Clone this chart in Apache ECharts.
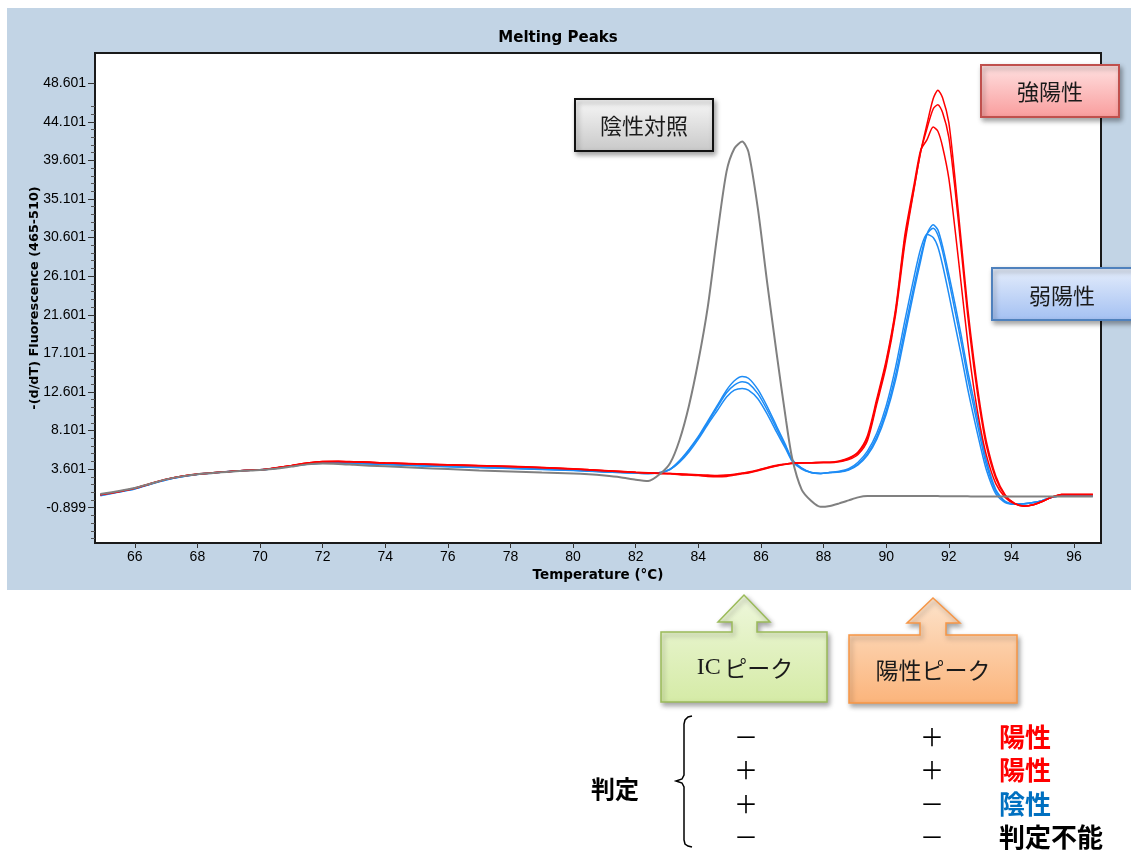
<!DOCTYPE html>
<html><head><meta charset="utf-8">
<script src="https://cdn.jsdelivr.net/npm/echarts@6/dist/echarts.min.js"></script>
<style>html,body{margin:0;padding:0;background:#fff}#c{width:1131px;height:852px}</style>
</head><body><div id="c"></div>
<script>
// Temperature grid (°C)
const temps = [64.9,65.5,66,66.5,67,67.5,68,68.5,69,69.5,
 70,70.5,71,71.5,72,72.5,73,73.5,74,75,
 76,77,78,79,80,80.5,81,81.5,82,82.4,
 82.8,83.1,83.4,83.7,84,84.3,84.6,84.9,85.15,85.4,
 85.6,85.9,86.2,86.5,86.8,87,87.3,87.6,87.9,88.2,
 88.5,88.8,89.1,89.4,89.7,90,90.3,90.6,90.9,91.1,
 91.3,91.5,91.65,91.8,92,92.2,92.4,92.6,92.8,93,
 93.2,93.5,93.8,94.1,94.4,94.7,95,95.3,95.6,96,
 96.6];
// negative control (gray)
const grayCtrl = [0.7,1.05,1.4,1.9,2.4,2.75,3.0,3.15,3.3,3.4,
 3.5,3.65,3.9,4.15,4.25,4.2,4.1,4.0,3.92,3.75,
 3.6,3.45,3.32,3.2,3.1,3.0,2.85,2.65,2.35,2.2,
 3.1,4.3,7.0,11.0,16.2,22.5,30.8,38.3,41.0,41.8,
 40.6,34.0,25.3,17.1,9.3,4.8,1.2,-0.1,-0.8,-0.7,
 -0.4,-0.05,0.3,0.45,0.45,0.45,0.45,0.45,0.45,0.45,
 0.45,0.45,0.45,0.42,0.42,0.42,0.42,0.42,0.4,0.4,
 0.4,0.4,0.4,0.4,0.4,0.4,0.4,0.4,0.4,0.4,
 0.4];
// weak positive (blue)
const blue1 = [0.55,0.95,1.3,1.85,2.35,2.72,3.0,3.15,3.32,3.45,
 3.5,3.7,3.95,4.2,4.32,4.35,4.3,4.25,4.18,4.05,
 3.92,3.82,3.72,3.6,3.48,3.4,3.3,3.22,3.15,3.1,
 3.2,3.6,4.6,5.9,7.4,9.2,11.0,12.8,13.9,14.4,
 14.2,12.9,10.9,8.6,6.3,4.7,3.7,3.2,3.1,3.2,
 3.25,3.5,4.1,5.2,7.1,10.0,14.0,19.3,24.6,27.9,
 31.0,32.1,31.5,29.6,26.3,22.8,19.1,15.1,11.6,8.0,
 4.6,1.2,-0.15,-0.5,-0.45,-0.3,-0.05,0.3,0.45,0.45,
 0.45];
const blue2 = [0.6,0.98,1.33,1.87,2.37,2.73,3.0,3.16,3.32,3.44,
 3.52,3.72,3.96,4.2,4.3,4.32,4.28,4.22,4.15,4.02,
 3.9,3.8,3.7,3.58,3.46,3.38,3.28,3.2,3.14,3.1,
 3.2,3.6,4.5,5.8,7.3,9.0,10.8,12.5,13.4,13.8,
 13.6,12.4,10.5,8.3,6.1,4.6,3.7,3.2,3.1,3.2,
 3.3,3.55,4.2,5.4,7.4,10.4,14.6,20.0,25.2,28.4,
 31.0,31.7,30.9,29.0,25.6,22.0,18.3,14.3,10.8,7.3,
 4.1,1.0,-0.2,-0.5,-0.45,-0.3,-0.05,0.3,0.45,0.45,
 0.45];
const blue3 = [0.5,0.92,1.28,1.83,2.33,2.7,2.98,3.14,3.3,3.44,
 3.5,3.68,3.92,4.16,4.28,4.3,4.26,4.2,4.14,4.0,
 3.88,3.78,3.68,3.56,3.45,3.36,3.27,3.2,3.13,3.08,
 3.2,3.55,4.4,5.6,7.1,8.8,10.4,12.0,12.8,13.0,
 12.8,11.8,10.0,7.9,5.9,4.5,3.6,3.2,3.1,3.2,
 3.35,3.65,4.4,5.7,7.8,11.0,15.5,21.0,26.2,29.3,
 31.0,30.6,29.5,27.4,24.0,20.4,16.8,13.0,9.6,6.4,
 3.5,0.7,-0.3,-0.5,-0.45,-0.3,-0.05,0.3,0.45,0.45,
 0.45];
// strong positive (red)
const red1 = [0.65,1.0,1.38,1.92,2.42,2.78,3.02,3.18,3.32,3.45,
 3.52,3.75,4.02,4.32,4.5,4.52,4.47,4.42,4.33,4.22,
 4.12,4.02,3.92,3.8,3.64,3.54,3.44,3.34,3.24,3.17,
 3.1,3.05,2.95,2.9,2.85,2.75,2.7,2.75,2.9,3.05,
 3.15,3.4,3.7,3.95,4.15,4.25,4.3,4.3,4.35,4.35,
 4.45,4.7,5.3,6.9,11.2,15.6,21.6,30.0,36.5,40.6,
 43.8,46.8,47.8,46.9,44.0,37.4,30.0,22.5,16.3,11.0,
 6.8,2.8,0.6,-0.4,-0.72,-0.55,-0.15,0.35,0.65,0.65,
 0.65];
const red2 = [0.62,0.98,1.36,1.9,2.4,2.76,3.0,3.16,3.3,3.44,
 3.5,3.73,4.0,4.3,4.48,4.5,4.45,4.4,4.3,4.2,
 4.1,4.0,3.9,3.78,3.62,3.52,3.42,3.32,3.22,3.15,
 3.1,3.1,3.05,3.0,2.95,2.9,2.85,2.9,3.0,3.15,
 3.25,3.5,3.8,4.05,4.2,4.3,4.35,4.35,4.4,4.4,
 4.5,4.8,5.5,7.2,11.5,16.0,22.0,30.5,36.6,40.6,
 43.3,45.6,46.1,45.2,42.3,36.2,29.0,21.6,15.5,10.4,
 6.3,2.5,0.5,-0.4,-0.7,-0.55,-0.15,0.35,0.65,0.65,
 0.65];
const red3 = [0.6,0.97,1.35,1.9,2.4,2.76,3.0,3.16,3.3,3.44,
 3.5,3.72,4.0,4.28,4.46,4.48,4.44,4.38,4.3,4.18,
 4.08,3.98,3.88,3.76,3.6,3.5,3.4,3.3,3.2,3.14,
 3.1,3.08,3.0,2.95,2.9,2.82,2.78,2.85,2.95,3.1,
 3.2,3.45,3.75,4.0,4.2,4.28,4.32,4.35,4.38,4.4,
 4.55,4.9,5.6,7.5,11.8,16.3,22.3,31.0,37.0,40.8,
 42.0,43.5,43.0,41.2,37.5,31.5,25.0,18.5,13.0,8.6,
 5.2,1.9,0.3,-0.45,-0.7,-0.55,-0.15,0.35,0.65,0.65,
 0.65];
// axis ticks
const xTicks = [66,68,70,72,74,76,78,80,82,84,86,88,90,92,94,96];
const yTicks = [-0.899,3.601,8.101,12.601,17.101,21.601,26.101,30.601,35.101,39.601,44.101,48.601];
const yMinor = [];
for (let k = -4; k <= 52; k++) {
  const v = Math.round((-0.899 + k * 0.9) * 1000) / 1000;
  if (k % 5 !== 0 && v > -5.02 && v < 52.13) yMinor.push(v);
}
// judgment table
const tableRows = [
  {ic: '－', pos: '＋', result: '陽性', color: '#ff0000'},
  {ic: '＋', pos: '＋', result: '陽性', color: '#ff0000'},
  {ic: '＋', pos: '－', result: '陰性', color: '#0070c0'},
  {ic: '－', pos: '－', result: '判定不能', color: '#000000'}
];

const pairs = arr => temps.map((t, i) => [t, arr[i]]);
const lineSeries = (name, arr, color, w) => ({
  name, type: 'line', data: pairs(arr), showSymbol: false, smooth: 0.25,
  lineStyle: {color, width: w}, itemStyle: {color}, z: 3
});
const CJK = '"Noto Sans CJK JP"';
const grad = (a, b) => ({type: 'linear', x: 0, y: 0, x2: 0, y2: 1, colorStops: [{offset: 0, color: a}, {offset: 1, color: b}]});
const shadow = {shadowBlur: 5, shadowOffsetX: 2, shadowOffsetY: 3, shadowColor: 'rgba(0,0,0,0.35)'};

const graphics = [
  {type: 'rect', z: -100, silent: true, shape: {x: 7, y: 8, width: 1130, height: 582}, style: {fill: '#c2d4e5'}},
  {type: 'rect', z: 100, shape: {x: 575, y: 99, width: 138, height: 52}, style: Object.assign({fill: grad('#f8f8f8', '#c8c8c8'), stroke: '#111', lineWidth: 2}, shadow)},
  {type: 'text', z: 101, x: 644, y: 126, style: {text: '陰性対照', font: '22px ' + CJK, fill: '#1a1a1a', textAlign: 'center', textVerticalAlign: 'middle'}},
  {type: 'rect', z: 100, shape: {x: 981, y: 65, width: 138, height: 52}, style: Object.assign({fill: grad('#ffe2e2', '#f99c9c'), stroke: '#c0504d', lineWidth: 2}, shadow)},
  {type: 'text', z: 101, x: 1050, y: 92, style: {text: '強陽性', font: '22px ' + CJK, fill: '#1a1a1a', textAlign: 'center', textVerticalAlign: 'middle'}},
  {type: 'rect', z: 100, shape: {x: 992, y: 268, width: 150, height: 52}, style: Object.assign({fill: grad('#e6eefc', '#a3c0f2'), stroke: '#4f81bd', lineWidth: 2}, shadow)},
  {type: 'text', z: 101, x: 1062, y: 296, style: {text: '弱陽性', font: '22px ' + CJK, fill: '#1a1a1a', textAlign: 'center', textVerticalAlign: 'middle'}},
  {type: 'polygon', z: 100, shape: {points: [[661,632],[732,632],[732,622],[718,622],[744,595],[770,622],[757,622],[757,632],[827,632],[827,702],[661,702]]},
    style: Object.assign({fill: grad('#eef7dc', '#d5eba6'), stroke: '#9bbb59', lineWidth: 1.5}, shadow)},
  {type: 'text', z: 101, x: 745, y: 668, style: {text: '{a|IC} {b|ピーク}', rich: {a: {font: '24px "Liberation Serif"', fill: '#1a1a1a'}, b: {font: '23px ' + CJK, fill: '#1a1a1a'}}, textAlign: 'center', textVerticalAlign: 'middle'}},
  {type: 'polygon', z: 100, shape: {points: [[849,635],[920,635],[920,623],[907,623],[933,598],[960,623],[946,623],[946,635],[1017,635],[1017,703],[849,703]]},
    style: Object.assign({fill: grad('#fde3cb', '#fbb47b'), stroke: '#f79646', lineWidth: 1.5}, shadow)},
  {type: 'text', z: 101, x: 933, y: 670, style: {text: '陽性ピーク', font: '23px ' + CJK, fill: '#1a1a1a', textAlign: 'center', textVerticalAlign: 'middle'}},
  {type: 'text', z: 101, x: 615, y: 789, style: {text: '判定', font: 'bold 24px ' + CJK, fill: '#000', textAlign: 'center', textVerticalAlign: 'middle'}},
  {type: 'polyline', z: 101, shape: {points: [[692,716],[688,717],[685,720],[684,724],[684,775],[682,779],[676,781],[682,783],[684,787],[684,840],[685,844],[688,846],[692,847]]}, style: {fill: null, stroke: '#000', lineWidth: 1.5}}
];
const rowY = [737, 770, 804, 837];
tableRows.forEach((r, i) => {
  graphics.push({type: 'text', z: 101, x: 746, y: rowY[i], style: {text: r.ic, font: '24px ' + CJK, fill: '#000', textAlign: 'center', textVerticalAlign: 'middle'}});
  graphics.push({type: 'text', z: 101, x: 932, y: rowY[i], style: {text: r.pos, font: '24px ' + CJK, fill: '#000', textAlign: 'center', textVerticalAlign: 'middle'}});
  graphics.push({type: 'text', z: 101, x: 999, y: rowY[i], style: {text: r.result, font: 'bold 26px ' + CJK, fill: r.color, textAlign: 'left', textVerticalAlign: 'middle'}});
});

const chart = echarts.init(document.getElementById('c'), null, {renderer: 'canvas'});
chart.setOption({
  animation: false,
  backgroundColor: '#fff',
  title: {text: 'Melting Peaks', left: 553, top: 26, textAlign: 'center',
    textStyle: {fontSize: 15, fontWeight: 'bold', fontFamily: 'DejaVu Sans', color: '#000'}},
  grid: {left: 95, top: 53, width: 1006, height: 490, show: true, backgroundColor: '#fff', borderColor: '#1a1a1a', borderWidth: 2},
  xAxis: {
    type: 'value', min: 64.73, max: 96.86,
    name: 'Temperature (°C)', nameLocation: 'middle', nameGap: 24,
    nameTextStyle: {fontSize: 13.5, fontWeight: 'bold', fontFamily: 'DejaVu Sans', color: '#000'},
    axisLine: {show: true, onZero: false, lineStyle: {color: '#1a1a1a', width: 1}},
    axisTick: {show: true, length: 5, customValues: xTicks, lineStyle: {color: '#333'}},
    axisLabel: {customValues: xTicks, margin: 7, fontSize: 14, fontFamily: 'Liberation Sans', color: '#000'},
    splitLine: {show: false}
  },
  yAxis: [{
    type: 'value', min: -5.02, max: 52.13, position: 'left',
    name: '-(d/dT) Fluorescence (465-510)', nameLocation: 'middle', nameGap: 54, nameRotate: 90,
    nameMoveOverlap: false,
    nameTextStyle: {fontSize: 12.8, fontWeight: 'bold', fontFamily: 'DejaVu Sans', color: '#000'},
    axisLine: {show: true, onZero: false, lineStyle: {color: '#1a1a1a', width: 1}},
    axisTick: {show: true, length: 7, customValues: yTicks, lineStyle: {color: '#333'}},
    axisLabel: {customValues: yTicks, margin: 9, fontSize: 14, fontFamily: 'Liberation Sans', color: '#000'},
    splitLine: {show: false}
  }, {
    type: 'value', min: -5.02, max: 52.13, position: 'left',
    axisLine: {show: false},
    axisTick: {show: true, length: 4, customValues: yMinor, lineStyle: {color: '#555'}},
    axisLabel: {show: false},
    splitLine: {show: false}
  }],
  series: [
    lineSeries('弱陽性 1', blue1, '#1e8cf5', 1.5),
    lineSeries('弱陽性 2', blue2, '#1e8cf5', 1.5),
    lineSeries('弱陽性 3', blue3, '#1e8cf5', 1.5),
    lineSeries('強陽性 1', red1, '#ff0000', 1.5),
    lineSeries('強陽性 2', red2, '#ff0000', 1.5),
    lineSeries('強陽性 3', red3, '#ff0000', 1.5),
    lineSeries('陰性対照', grayCtrl, '#808080', 2)
  ],
  graphic: graphics
});
</script></body></html>
